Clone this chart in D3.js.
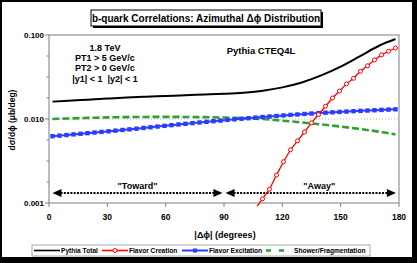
<!DOCTYPE html>
<html>
<head>
<meta charset="utf-8">
<script src="https://cdn.jsdelivr.net/npm/d3@7"></script>
<style>
  html, body { margin: 0; padding: 0; background: #fff; }
  svg text { font-family: "Liberation Sans", Arial, sans-serif; font-weight: bold; fill: #000; }
</style>
</head>
<body>
<div id="chart-container"></div>
<script>
// Bin centres (degrees) for the marker series
const binDeg = [1.8, 5.4, 9.0, 12.6, 16.2, 19.8, 23.4, 27.0, 30.6, 34.2,
  37.8, 41.4, 45.0, 48.6, 52.2, 55.8, 59.4, 63.0, 66.6, 70.2,
  73.8, 77.4, 81.0, 84.6, 88.2, 91.8, 95.4, 99.0, 102.6, 106.2,
  109.8, 113.4, 117.0, 120.6, 124.2, 127.8, 131.4, 135.0, 138.6, 142.2,
  145.8, 149.4, 153.0, 156.6, 160.2, 163.8, 167.4, 171.0, 174.6, 178.2];

// Flavor Excitation (blue squares)
const excitationVal = [0.00624, 0.00634, 0.00644, 0.00656, 0.00667, 0.00678, 0.00690, 0.00702, 0.00714, 0.00727,
  0.00740, 0.00753, 0.00767, 0.00782, 0.00797, 0.00813, 0.00829, 0.00845, 0.00861, 0.00877,
  0.00893, 0.00909, 0.00926, 0.00942, 0.00958, 0.00975, 0.00991, 0.01007, 0.01023, 0.01039,
  0.01055, 0.01071, 0.01087, 0.01103, 0.01118, 0.01133, 0.01148, 0.01162, 0.01176, 0.01189,
  0.01202, 0.01214, 0.01226, 0.01238, 0.01250, 0.01261, 0.01272, 0.01283, 0.01294, 0.01304];

// Flavor Creation (red open circles), only the part that reaches the plot
const creationDeg = [102.6, 106.2, 109.8, 113.4, 117.0, 120.6, 124.2, 127.8, 131.4, 135.0, 138.6, 142.2,
  145.8, 149.4, 153.0, 156.6, 160.2, 163.8, 167.4, 171.0, 174.6, 178.2];
const creationVal = [0.00066, 0.00086, 0.00112, 0.00146, 0.00215, 0.00310, 0.00430, 0.00550, 0.00700, 0.00900, 0.01130, 0.01420,
  0.01780, 0.02150, 0.02620, 0.03050, 0.03700, 0.04300, 0.05050, 0.05800, 0.06400, 0.07000];

// Smooth curves without markers
const curveDeg = [1.8, 10, 20, 30, 40, 50, 60, 70, 80, 90, 100, 110, 120, 130, 140, 150, 160, 170, 178.2];
const totalVal = [0.0161, 0.0165, 0.0170, 0.0175, 0.0180, 0.0184, 0.0188, 0.0192, 0.0196, 0.0200,
  0.0206, 0.0217, 0.0238, 0.0272, 0.0330, 0.0420, 0.0560, 0.0750, 0.0895];
const showerVal = [0.0100, 0.01015, 0.01030, 0.01045, 0.01053, 0.01058, 0.01060, 0.01058, 0.01052, 0.01040,
  0.01022, 0.00998, 0.00955, 0.00910, 0.00862, 0.00812, 0.00760, 0.00705, 0.00655];

const xTicks = [0, 30, 60, 90, 120, 150, 180];
const yTicks = [0.001, 0.01, 0.1];
const yTickLabels = ['0.001', '0.010', '0.100'];
const yMinorTicks = [0.00178, 0.00316, 0.00562, 0.0178, 0.0316, 0.0562];

const legendLabels = ['Pythia Total', 'Flavor Creation', 'Flavor Excitation', 'Shower/Fragmentation'];
const infoLines = ['1.8 TeV', 'PT1 > 5 GeV/c', 'PT2 > 0 GeV/c', '|y1| < 1  |y2| < 1'];
const regionLabels = ['"Toward"', '"Away"'];
const regionFrom = [1.8, 90.8];
const regionTo = [89.2, 178.4];
const regionMid = [45.5, 139];

const W = 417, H = 263;
const plot = { left: 49, right: 399, top: 35, bottom: 203 };
const colors = { total: '#000000', creation: '#ff0000', excitation: '#2b3cff', shower: '#2fa12f' };

const svg = d3.select('#chart-container')
  .append('svg')
  .attr('width', W)
  .attr('height', H);

// outer frame with shadow on right/bottom
svg.append('rect').attr('width', W).attr('height', H).attr('fill', '#000');
svg.append('rect').attr('x', 2).attr('y', 2).attr('width', 410).attr('height', 255).attr('fill', '#fff');

// title box
svg.append('rect').attr('x', 93).attr('y', 12).attr('width', 230).attr('height', 16).attr('fill', '#000');
svg.append('rect').attr('x', 91).attr('y', 10).attr('width', 230).attr('height', 16)
  .attr('fill', '#fff').attr('stroke', '#000').attr('stroke-width', 1);
svg.append('text').attr('x', 206).attr('y', 22).attr('text-anchor', 'middle')
  .style('font-size', '10px')
  .text('b-quark Correlations: Azimuthal Δϕ Distribution');

const x = d3.scaleLinear().domain([0, 180]).range([plot.left, plot.right]);
const y = d3.scaleLog().domain([0.001, 0.1]).range([plot.bottom, plot.top]);

// grid line at 0.010
svg.append('line')
  .attr('x1', plot.left).attr('x2', plot.right)
  .attr('y1', y(0.01)).attr('y2', y(0.01))
  .attr('stroke', '#b4b4b4').attr('stroke-width', 1).attr('stroke-dasharray', '1,2');

// plot frame
svg.append('rect')
  .attr('x', plot.left).attr('y', plot.top)
  .attr('width', plot.right - plot.left).attr('height', plot.bottom - plot.top)
  .attr('fill', 'none').attr('stroke', '#a8a8a8').attr('stroke-width', 1.5);

// y axis ticks + labels
svg.selectAll('.ytick').data(yTicks).enter().append('line')
  .attr('x1', plot.left - 4).attr('x2', plot.left)
  .attr('y1', d => y(d)).attr('y2', d => y(d))
  .attr('stroke', '#808080');
svg.selectAll('.yminor').data(yMinorTicks).enter().append('line')
  .attr('x1', plot.left - 2.5).attr('x2', plot.left)
  .attr('y1', d => y(d)).attr('y2', d => y(d))
  .attr('stroke', '#808080');
svg.selectAll('.ylabel').data(yTicks).enter().append('text')
  .attr('x', 44).attr('y', d => y(d) + 3)
  .attr('text-anchor', 'end')
  .style('font-size', '8px')
  .text((d, i) => yTickLabels[i]);

// x axis ticks + labels
svg.selectAll('.xtick').data(xTicks).enter().append('line')
  .attr('x1', d => x(d)).attr('x2', d => x(d))
  .attr('y1', plot.bottom).attr('y2', plot.bottom + 4)
  .attr('stroke', '#808080');
svg.selectAll('.xlabel').data(xTicks).enter().append('text')
  .attr('x', d => x(d)).attr('y', 220)
  .attr('text-anchor', 'middle')
  .style('font-size', '8.5px')
  .text(d => d);

// axis titles
svg.append('text').attr('x', 225).attr('y', 238).attr('text-anchor', 'middle')
  .style('font-size', '9px').text('|Δϕ| (degrees)');
svg.append('text').attr('transform', 'translate(15,120) rotate(-90)').attr('text-anchor', 'middle')
  .style('font-size', '8.5px').text('dσ/dϕ (μb/deg)');

// annotations
svg.selectAll('.info').data(infoLines).enter().append('text')
  .attr('x', 105).attr('y', (d, i) => 51 + i * 10.2)
  .attr('text-anchor', 'middle')
  .style('font-size', '9px')
  .style('white-space', 'pre')
  .attr('xml:space', 'preserve')
  .text(d => d);
svg.append('text').attr('x', 261).attr('y', 54).attr('text-anchor', 'middle')
  .style('font-size', '9.5px').text('Pythia CTEQ4L');

// "Toward" / "Away" arrows
const arrowY = 193;
regionLabels.forEach((label, i) => {
  const x1 = x(regionFrom[i]), x2 = x(regionTo[i]);
  svg.append('line')
    .attr('x1', x1 + 8).attr('x2', x2 - 8)
    .attr('y1', arrowY).attr('y2', arrowY)
    .attr('stroke', '#000').attr('stroke-width', 1.8).attr('stroke-dasharray', '2,1.3');
  svg.append('path')
    .attr('d', `M${x1},${arrowY} L${x1 + 9},${arrowY - 4} L${x1 + 9},${arrowY + 4} Z`)
    .attr('fill', '#000');
  svg.append('path')
    .attr('d', `M${x2},${arrowY} L${x2 - 9},${arrowY - 4} L${x2 - 9},${arrowY + 4} Z`)
    .attr('fill', '#000');
  svg.append('text').attr('x', x(regionMid[i])).attr('y', 189).attr('text-anchor', 'middle')
    .style('font-size', '9px').text(label);
});

// series
svg.append('clipPath').attr('id', 'plot-clip').append('rect')
  .attr('x', plot.left).attr('y', plot.top)
  .attr('width', plot.right - plot.left).attr('height', plot.bottom - plot.top + 3);

const series = svg.append('g').attr('clip-path', 'url(#plot-clip)');

const smooth = d3.line().x(d => x(d[0])).y(d => y(d[1])).curve(d3.curveMonotoneX);
const straight = d3.line().x(d => x(d[0])).y(d => y(d[1]));

series.append('path')
  .datum(curveDeg.map((d, i) => [d, showerVal[i]]))
  .attr('d', smooth)
  .attr('fill', 'none').attr('stroke', colors.shower)
  .attr('stroke-width', 2.6).attr('stroke-dasharray', '7,3');

const excitation = binDeg.map((d, i) => [d, excitationVal[i]]);
series.append('path')
  .datum(excitation)
  .attr('d', straight)
  .attr('fill', 'none').attr('stroke', colors.excitation).attr('stroke-width', 2);
series.selectAll('.excitation').data(excitation).enter().append('rect')
  .attr('x', d => x(d[0]) - 2.2).attr('y', d => y(d[1]) - 2.2)
  .attr('width', 4.4).attr('height', 4.4)
  .attr('fill', colors.excitation);

series.append('path')
  .datum(curveDeg.map((d, i) => [d, totalVal[i]]))
  .attr('d', smooth)
  .attr('fill', 'none').attr('stroke', colors.total).attr('stroke-width', 2);

const creation = creationDeg.map((d, i) => [d, creationVal[i]]);
series.append('path')
  .datum(creation)
  .attr('d', straight)
  .attr('fill', 'none').attr('stroke', colors.creation).attr('stroke-width', 1.3);
series.selectAll('.creation').data(creation).enter().append('circle')
  .attr('cx', d => x(d[0])).attr('cy', d => y(d[1]))
  .attr('r', 2)
  .attr('fill', '#fff').attr('stroke', colors.creation).attr('stroke-width', 1);

// legend
const legend = svg.append('g');
legend.append('rect').attr('x', 32).attr('y', 245).attr('width', 338).attr('height', 11)
  .attr('fill', '#fff').attr('stroke', '#a8a8a8').attr('stroke-width', 1);
const legendX = [34, 102, 182, 266];
const legendColors = [colors.total, colors.creation, colors.excitation, colors.shower];
const ly = 250.5;
legendLabels.forEach((label, i) => {
  const sx = legendX[i];
  const sample = legend.append('line')
    .attr('x1', sx).attr('x2', sx + 26).attr('y1', ly).attr('y2', ly)
    .attr('stroke', legendColors[i]).attr('stroke-width', i === 2 ? 2 : (i === 3 ? 2.6 : 1.6));
  if (i === 3) sample.attr('stroke-dasharray', '5,8');
  if (i === 1) {
    legend.append('circle').attr('cx', sx + 13).attr('cy', ly).attr('r', 2)
      .attr('fill', '#fff').attr('stroke', colors.creation);
  }
  if (i === 2) {
    legend.append('rect').attr('x', sx + 11).attr('y', ly - 2).attr('width', 4).attr('height', 4)
      .attr('fill', colors.excitation);
  }
  legend.append('text').attr('x', i === 3 ? sx + 28 : sx + 27).attr('y', ly + 2.4)
    .style('font-size', '6.6px').text(label);
});
</script>
</body>
</html>
